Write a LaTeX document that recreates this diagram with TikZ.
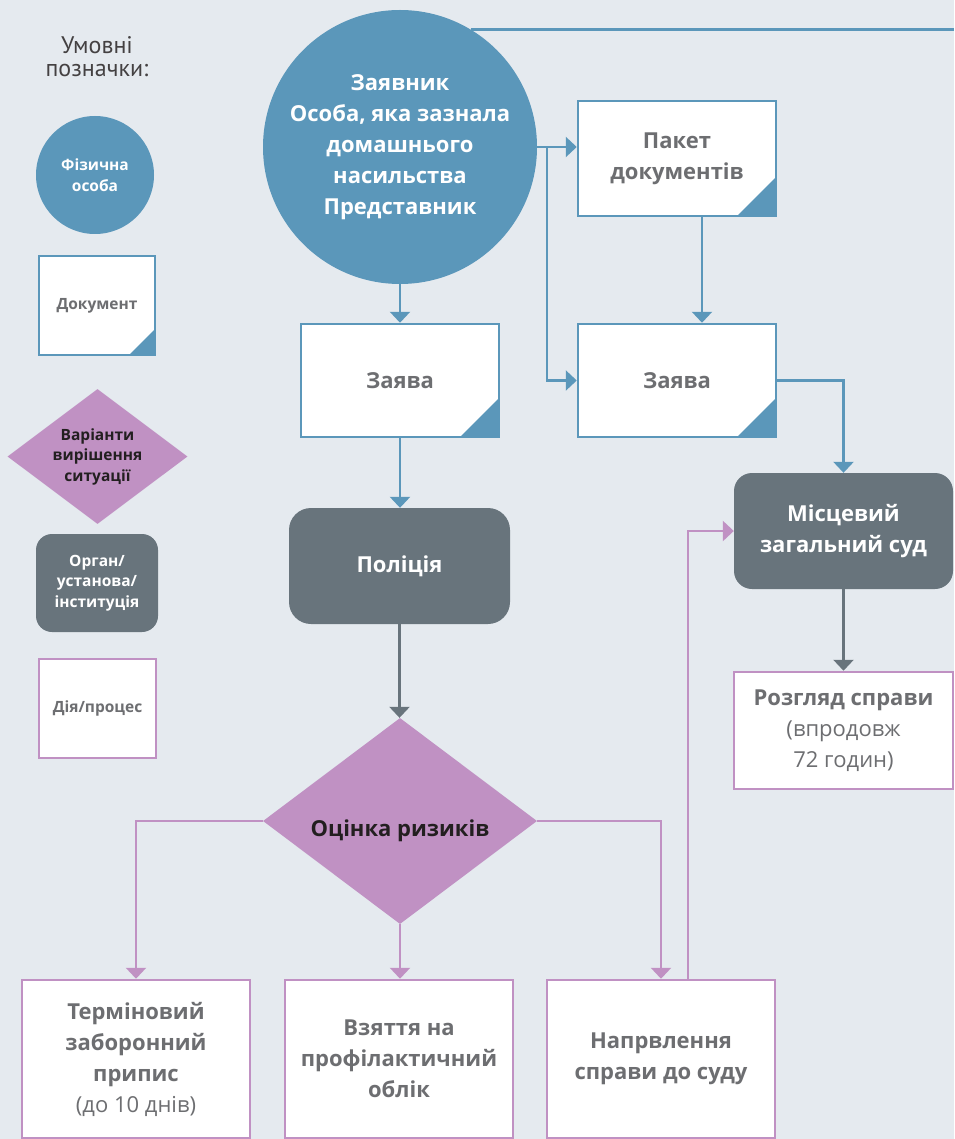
\documentclass[tikz,border=0pt]{standalone}
\usepackage{fontspec}
\setmainfont{Open Sans}
\newfontfamily\titlefont{PT Sans}
\usetikzlibrary{arrows.meta,shapes.geometric}
\definecolor{bgc}{HTML}{E5EAEF}
\definecolor{bluec}{HTML}{5B97BA}
\definecolor{greyc}{HTML}{68747C}
\definecolor{purpc}{HTML}{C091C3}
\definecolor{textc}{HTML}{6D6E71}
\definecolor{darkc}{HTML}{231F20}
\tikzset{
  boxnode/.style = {align=center, inner sep=0pt, text centered, font=\bfseries\fontsize{22}{31}\selectfont},
  legnode/.style = {boxnode, font=\bfseries\fontsize{15.5}{20.5}\selectfont},
  pers_c/.style = {circle, fill=bluec, text=white},
  doc_b/.style = {rectangle, fill=white, draw=bluec, text=textc, line width=2.5pt,
    path picture={\fill[bluec] (path picture bounding box.south east) -- ++(-#1,0pt) -- ++(#1,#1) -- cycle;}},
  doc_b/.default = 39pt,
  var_d/.style = {diamond, fill=purpc, text=darkc},
  org_g/.style = {rectangle, rounded corners=#1, fill=greyc, text=white},
  org_g/.default = 20pt,
  act_p/.style = {rectangle, fill=white, draw=purpc, text=textc, line width=2.5pt},
  arr/.style = {line width=2.5pt, -{Triangle[width=20pt,length=11pt]}},
}
\newcommand{\nb}[1]{{\mdseries #1}}

\begin{document}
\begin{tikzpicture}[x=1pt, y=-1pt]
  \fill[bgc] (0,0) rectangle (954,1139);
  \useasboundingbox (0,0) rectangle (954,1139);

  % legend
  \node [align=center, text=darkc!85, font=\titlefont\fontsize{24}{23}\selectfont] (legtitle) at (97,57) {Умовні\\позначки:};
  \node [legnode, pers_c, minimum size=118pt] (legpers) at (95,175) {Фізична\\особа};
  \node [legnode, doc_b=26pt, minimum width=116pt, minimum height=99pt] (legdoc) at (97,305.5) {Документ};
  \node [legnode, var_d, minimum width=180pt, minimum height=135pt, aspect=1.33] (legvar) at (97.5,456.5) {Варіанти\\вирішення\\ситуації};
  \node [legnode, org_g=16pt, minimum width=122pt, minimum height=98pt] (legorg) at (97,583) {Орган/\\установа/\\інституція};
  \node [legnode, act_p, minimum width=117pt, minimum height=99pt] (legact) at (97.5,708.5) {Дія/процес};

  % main chart
  \node [boxnode, pers_c, minimum size=274pt] (zayavnyk) at (400,147) {Заявник\\Особа, яка зазнала\\домашнього\\насильства\\Представник};
  \node [boxnode, doc_b, minimum width=198pt, minimum height=115pt] (paket) at (677,158.5) {Пакет\\документів};
  \node [boxnode, doc_b, minimum width=198pt, minimum height=113pt] (zayava1) at (400,380.5) {Заява};
  \node [boxnode, doc_b, minimum width=198pt, minimum height=113pt] (zayava2) at (677,380.5) {Заява};
  \node [boxnode, org_g=22pt, minimum width=221pt, minimum height=116pt] (police) at (399.5,566) {Поліція};
  \node [boxnode, org_g=18pt, minimum width=219pt, minimum height=116pt] (court) at (843.5,531) {Місцевий\\загальний суд};
  \node [boxnode, act_p, minimum width=219pt, minimum height=117pt] (rozglyad) at (843.5,730.5) {Розгляд справи\\\nb{(впродовж}\\\nb{72 годин)}};
  \node [boxnode, var_d, minimum width=274pt, minimum height=206pt, aspect=1.33, text height=36pt, text depth=5pt] (ocinka) at (400,821) {Оцінка ризиків};
  \node [boxnode, act_p, minimum width=228pt, minimum height=158pt] (zaboron) at (136,1059) {Терміновий\\заборонний\\припис\\\nb{(до 10 днів)}};
  \node [boxnode, act_p, minimum width=228pt, minimum height=158pt] (oblik) at (399,1059) {Взяття на\\профілактичний\\облік};
  \node [boxnode, act_p, minimum width=228pt, minimum height=158pt] (napr) at (661,1059) {Напрвлення\\справи до суду};

  \coordinate (topend) at (954,29);
  \coordinate (split) at (547,147);
  \coordinate (pz) at (702,0);
  \coordinate (riser) at (688,0);

  % connectors
  \draw [bluec, line width=2.5pt] (zayavnyk.59.5) -- (zayavnyk.59.5 -| topend);
  \draw [bluec, arr] (zayavnyk.east) -- (zayavnyk.east -| paket.west);
  \draw [bluec, arr] (split) |- (zayava2.west);
  \draw [bluec, arr] (paket.south -| pz) -- (zayava2.north -| pz);
  \draw [bluec, arr] (zayavnyk.south) -- (zayava1.north);
  \draw [bluec, arr] (zayava1.south) -- (zayava1.south |- police.north);
  \draw [bluec, arr] (zayava2.east) -| (court.north);
  \draw [greyc, arr] (police.south) -- (police.south |- ocinka.north);
  \draw [greyc, arr] (court.south) -- (rozglyad.north);
  \draw [purpc, arr] (ocinka.west) -| (zaboron.north);
  \draw [purpc, arr] (ocinka.south) -- (ocinka.south |- oblik.north);
  \draw [purpc, arr] (ocinka.east) -| (napr.north);
  \draw [purpc, arr] (napr.north -| riser) |- (court.west);
\end{tikzpicture}
\end{document}
